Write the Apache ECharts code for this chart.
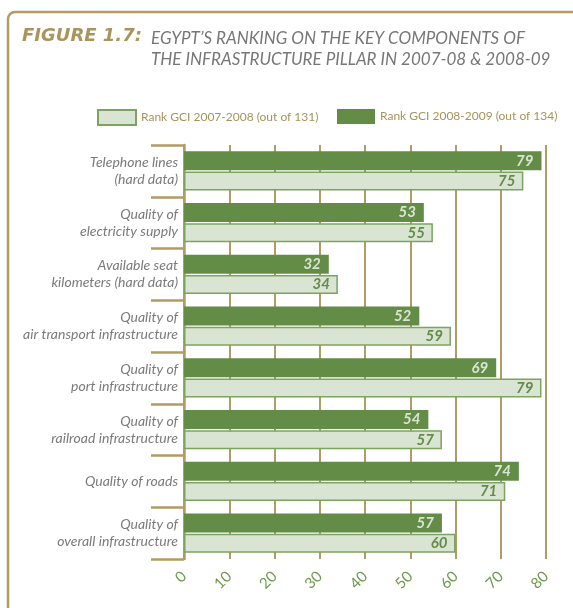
<!DOCTYPE html>
<html>
<head>
<meta charset="utf-8">
<script src="https://cdn.jsdelivr.net/npm/echarts@6/dist/echarts.min.js"></script>
<style>
  html, body { margin: 0; padding: 0; background: #ffffff; }
  #chart { width: 573px; height: 608px; }
</style>
</head>
<body>
<div id="chart"></div>
<script>
// Infrastructure pillar components (top to bottom)
const categories = [
  'Telephone lines\n(hard data)',
  'Quality of\nelectricity supply',
  'Available seat\nkilometers (hard data)',
  'Quality of\nair transport infrastructure',
  'Quality of\nport infrastructure',
  'Quality of\nrailroad infrastructure',
  'Quality of roads',
  'Quality of\noverall infrastructure'
];
const rank2008_09 = [79, 53, 32, 52, 69, 54, 74, 57];
const rank2007_08 = [75, 55, 34, 59, 79, 57, 71, 60];
const name2007_08 = 'Rank GCI 2007-2008 (out of 131)';
const name2008_09 = 'Rank GCI 2008-2009 (out of 134)';
const xTicks = { min: 0, max: 80, step: 10 };

const TAN = '#b39b64';
const DARK = '#638c47';
const LIGHT = '#dae4d3';
const LIGHT_EDGE = '#7ba462';
const GREY = '#7b7b7b';
const FONT = 'Lato';

const legendBase = {
  top: 109, padding: 0,
  itemWidth: 38, itemHeight: 15, itemGap: 5,
  icon: 'rect',
  textStyle: { color: '#a8935c', fontSize: 12, fontFamily: FONT, padding: [0, 0, 0, 0] },
  selectedMode: false
};

const chart = echarts.init(document.getElementById('chart'));
chart.setOption({
  animation: false,
  textStyle: { fontFamily: FONT },
  graphic: [{
    type: 'rect',
    shape: { x: 8, y: 12, width: 620, height: 660, r: 7 },
    style: { fill: 'none', stroke: TAN, lineWidth: 2.5 },
    silent: true
  }],
  title: [{
    text: 'FIGURE 1.7:',
    left: 22, top: 25, padding: 0,
    textStyle: { fontFamily: 'DejaVu Sans', fontSize: 18, lineHeight: 22, fontWeight: 'bold', fontStyle: 'italic', color: '#ab9459' }
  }, {
    text: 'EGYPT\u2019S RANKING ON THE KEY COMPONENTS OF\nTHE INFRASTRUCTURE PILLAR IN 2007-08 & 2008-09',
    left: 151, top: 28, padding: 0,
    textStyle: { fontFamily: FONT, fontSize: 17, fontWeight: 'normal', fontStyle: 'italic', color: '#777777', lineHeight: 21 }
  }],
  legend: [
    Object.assign({}, legendBase, { left: 97, data: [name2007_08] }),
    Object.assign({}, legendBase, { left: 337, data: [name2008_09] })
  ],
  grid: { left: 184, right: 27, top: 145, bottom: 49, containLabel: false },
  xAxis: {
    type: 'value',
    min: xTicks.min, max: xTicks.max, interval: xTicks.step,
    axisLine: { show: false },
    axisTick: { show: false },
    splitLine: { show: true, lineStyle: { color: TAN, width: 2 } },
    axisLabel: { color: '#6c9a4d', fontSize: 15, rotate: 45, margin: 15, fontFamily: FONT }
  },
  yAxis: {
    type: 'category',
    data: categories,
    inverse: true,
    axisLine: { show: true, lineStyle: { color: TAN, width: 2.5 } },
    axisTick: { show: true, length: 33, lineStyle: { color: TAN, width: 2.5 } },
    axisLabel: { color: GREY, fontSize: 14, fontStyle: 'italic', lineHeight: 17, margin: 6, fontFamily: FONT }
  },
  series: [{
    name: name2008_09,
    type: 'bar',
    data: rank2008_09,
    barWidth: 19,
    barGap: '6%',
    itemStyle: { color: DARK },
    label: {
      show: true, position: 'insideRight', distance: 8,
      color: LIGHT, fontSize: 15, fontWeight: 'bold', fontStyle: 'italic', fontFamily: FONT
    }
  }, {
    name: name2007_08,
    type: 'bar',
    data: rank2007_08,
    barWidth: 19,
    itemStyle: { color: LIGHT, borderColor: LIGHT_EDGE, borderWidth: 1.5 },
    label: {
      show: true, position: 'insideRight', distance: 8,
      color: DARK, fontSize: 15, fontWeight: 'bold', fontStyle: 'italic', fontFamily: FONT
    }
  }]
});
</script>
</body>
</html>
